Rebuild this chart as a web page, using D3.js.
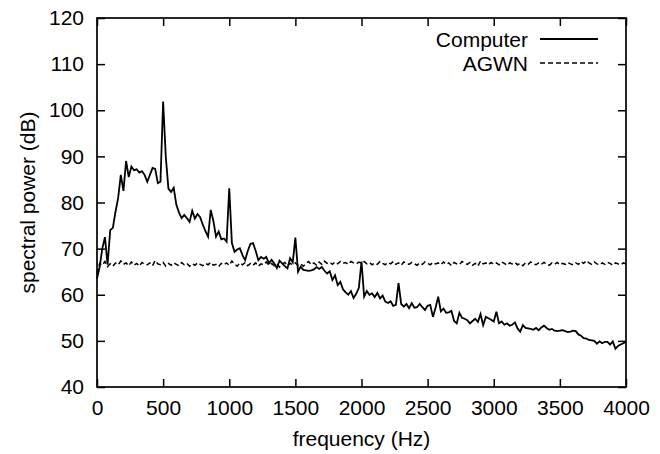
<!DOCTYPE html>
<html><head><meta charset="utf-8">
<script src="https://cdn.jsdelivr.net/npm/d3@7"></script>
<style>body{margin:0;background:#fff}svg{display:block}text{font-family:"Liberation Sans",Arial,sans-serif;fill:#000}</style>
</head><body><div id="c"></div>
<script>
const freqStep = 20;
const computerValues = [
63.5,66,70,72.5,66.5,74,74.5,78,81,86,
82.5,89,85.5,87.8,87,87.2,86.5,86.8,86,84.5,
86,87.5,87.3,84.2,84.5,101.9,90,83,82.3,83.2,
79.5,77.8,76.6,77.3,76.6,75.8,78.2,76.5,77.5,76.8,
75.2,73.8,72.6,78.4,76,72.6,73.7,72,72.2,71.5,
83.1,71.2,69.3,69.8,70.1,68.6,67.5,69.5,71,71.2,
69.5,67.5,68.2,67.8,68.2,66.8,67.6,66.8,65.8,67.4,
66.8,66.2,65.7,67.9,67,72.4,65,66.1,65.4,65.3,
65.2,65.3,65.5,66,65.6,66,65.2,64.6,65.1,63.2,
64.2,62.1,62.8,61.2,60.5,60,60.8,59.3,60.2,61.5,
67.2,59.6,60.8,60,60.3,59.5,60.4,59.2,59.8,58.5,
58.2,58.6,57.6,57.8,62.5,58,57.4,58,57.1,58.2,
57.2,57.3,58,57.3,56.7,57.6,57.8,55.2,57.2,59.6,
56.4,57,56.1,56.2,56.5,54.3,53.8,56.1,55,54.8,
54.5,53.8,54.3,54.8,54.1,55.8,53.4,55.2,54.9,54.6,
54.2,56.3,53.8,54.2,53.5,53.8,53.3,53.5,54,52.7,
52,53.4,52.8,52.7,52.6,52.4,52.8,52.3,52.9,53.3,
52.8,52.4,52.6,52.2,52.1,52.2,52.3,52.1,51.9,52,
52.2,52.1,51.4,51.1,50.6,50.5,50.2,50.1,50,49.4,
49.9,49.5,49.8,49.8,49.2,49.9,48.3,48.9,49.2,49.5,
49.8];
const agwnValues = [
64.5,66.8,66.4,67.2,66.1,66.7,66.2,66.9,66.5,67.3,
66.6,66.9,66.3,67.1,66.4,66.8,66.2,67.0,66.6,66.5,
66.9,66.3,67.4,66.7,66.5,67.0,66.2,66.8,66.4,66.9,
66.6,66.3,67.0,66.5,66.8,66.2,66.7,66.4,66.9,66.6,
66.3,66.8,66.5,67.0,66.4,66.6,66.1,66.8,66.5,66.9,
66.4,67.3,66.6,66.2,66.9,66.5,67.0,66.3,66.8,66.4,
66.9,66.2,66.7,66.5,67.1,66.4,66.8,66.3,66.7,66.0,
66.6,67.0,66.3,66.8,66.5,66.9,66.4,66.7,66.2,66.8,
67.2,66.5,66.9,66.4,67.1,66.6,67.3,66.8,67.0,66.6,
67.1,66.7,67.2,66.8,67.0,66.6,67.2,66.9,66.7,67.1,
66.8,67.2,66.7,67.0,66.5,66.9,66.6,67.2,66.8,66.5,
67.0,66.7,67.2,66.6,66.9,66.4,67.1,66.8,66.6,67.0,
66.7,66.4,66.9,66.6,67.1,66.8,66.5,67.0,66.7,66.9,
66.5,67.1,66.6,66.9,66.3,67.0,66.7,66.5,67.2,66.8,
66.6,67.0,66.4,66.8,66.2,67.3,66.7,66.9,66.5,67.0,
66.6,66.9,66.5,67.1,66.8,66.4,66.9,66.7,67.0,66.5,
66.8,66.3,66.9,66.6,67.1,66.7,66.5,66.9,66.6,67.0,
66.7,66.4,66.9,66.6,67.0,66.5,66.8,66.6,67.0,66.7,
66.5,66.9,66.6,67.2,66.8,67.4,66.9,66.6,67.1,66.7,
66.5,66.9,66.6,67.0,66.8,66.4,66.9,66.7,66.5,66.9,
66.7];
const xTicks = [0,500,1000,1500,2000,2500,3000,3500,4000];
const yTicks = [40,50,60,70,80,90,100,110,120];
const seriesNames = ["Computer","AGWN"];

const W=660,H=454, L=97, R=626, T=18, B=387;
const svg=d3.select("#c").append("svg").attr("width",W).attr("height",H);
const x=d3.scaleLinear().domain([0,4000]).range([L,R]);
const y=d3.scaleLinear().domain([40,120]).range([B,T]);
const fs=21;

// data lines
const line=d3.line().x((d,i)=>x(i*freqStep)).y(d=>y(d));
svg.append("path").datum(agwnValues).attr("d",line).attr("fill","none")
  .attr("stroke","#000").attr("stroke-width",1.5).attr("stroke-dasharray","5,3");
svg.append("path").datum(computerValues).attr("d",line).attr("fill","none")
  .attr("stroke","#000").attr("stroke-width",1.8).attr("stroke-linejoin","miter");

// axes with inward ticks
const tl=8;
const gx=svg.append("g").attr("transform",`translate(0,${B})`)
  .call(d3.axisBottom(x).tickValues(xTicks).tickSize(-tl).tickPadding(13).tickFormat(d3.format("d")));
const gxt=svg.append("g").attr("transform",`translate(0,${T})`)
  .call(d3.axisTop(x).tickValues(xTicks).tickSize(-tl).tickFormat(""));
const gy=svg.append("g").attr("transform",`translate(${L},0)`)
  .call(d3.axisLeft(y).tickValues(yTicks).tickSize(-tl).tickPadding(13).tickFormat(d3.format("d")));
const gyr=svg.append("g").attr("transform",`translate(${R},0)`)
  .call(d3.axisRight(y).tickValues(yTicks).tickSize(-tl).tickFormat(""));
[gx,gxt,gy,gyr].forEach(g=>{
  g.select(".domain").remove();
  g.selectAll(".tick line").attr("stroke","#000").attr("stroke-width",1.5);
  g.selectAll("text").style("font-size",fs+"px").style("font-family",'"Liberation Sans",Arial,sans-serif').attr("fill","#000");
});
svg.append("rect").attr("x",L).attr("y",T).attr("width",R-L).attr("height",B-T)
  .attr("fill","none").attr("stroke","#000").attr("stroke-width",1.7);

// axis titles
svg.append("text").attr("x",(L+R)/2).attr("y",446).attr("text-anchor","middle")
  .style("font-size",fs+"px").text("frequency (Hz)");
svg.append("text").attr("transform",`translate(35,${(T+B)/2}) rotate(-90)`).attr("text-anchor","middle")
  .style("font-size",fs+"px").text("spectral power (dB)");

// legend
const leg=[{n:seriesNames[0],dash:null,w:1.8,yy:39},{n:seriesNames[1],dash:"5,3",w:1.5,yy:63}];
leg.forEach(l=>{
  svg.append("text").attr("x",528).attr("y",l.yy+8).attr("text-anchor","end").style("font-size",fs+"px").text(l.n);
  svg.append("line").attr("x1",540).attr("x2",598).attr("y1",l.yy).attr("y2",l.yy)
    .attr("stroke","#000").attr("stroke-width",l.w).attr("stroke-dasharray",l.dash);
});
</script></body></html>
